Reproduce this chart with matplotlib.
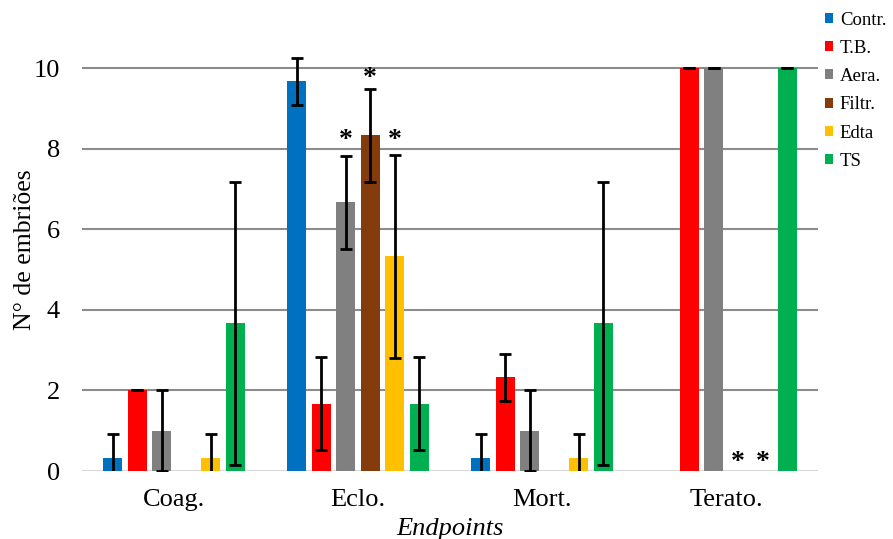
import numpy as np
import matplotlib.pyplot as plt
from matplotlib.patches import Patch

plt.rcParams['font.family'] = ['Liberation Serif', 'DejaVu Serif']

# dados
categorias = ['Coag.', 'Eclo.', 'Mort.', 'Terato.']
series = ['Contr.', 'T.B.', 'Aera.', 'Filtr.', 'Edta', 'TS']
cores = ['#0070C0', '#FF0000', '#808080', '#843C0C', '#FFC000', '#00B050']

contr = [0.33, 9.67, 0.33, 0.0]
tb = [2.0, 1.67, 2.33, 10.0]
aera = [1.0, 6.67, 1.0, 10.0]
filtr = [0.0, 8.33, 0.0, 0.0]
edta = [0.33, 5.33, 0.33, 0.0]
ts = [3.67, 1.67, 3.67, 10.0]

contr_err = [0.58, 0.58, 0.58, 0.0]
tb_err = [0.0, 1.15, 0.58, 0.0]
aera_err = [1.0, 1.15, 1.0, 0.0]
filtr_err = [0.0, 1.15, 0.0, 0.0]
edta_err = [0.58, 2.52, 0.58, 0.0]
ts_err = [3.51, 1.15, 3.51, 0.0]

# asteriscos: (categoria, serie, y)
estrelas = [(1, 2, 8.19), (1, 3, 9.75), (1, 4, 8.19), (3, 3, 0.22), (3, 4, 0.22)]

valores = [contr, tb, aera, filtr, edta, ts]
erros = [contr_err, tb_err, aera_err, filtr_err, edta_err, ts_err]

fig = plt.figure(figsize=(8.93, 5.39), dpi=100)
ax = fig.add_axes([0.0918, 0.126, 0.8242, 0.8226])

x = np.arange(len(categorias))
passo = 0.133
larg = 0.103

for i, (v, e) in enumerate(zip(valores, erros)):
    pos = x + (i - 2.5) * passo
    ax.bar(pos, v, width=larg, color=cores[i], zorder=3)
    tem_erro = [k for k in range(len(v)) if v[k] > 0]
    ax.errorbar(pos[tem_erro], np.array(v)[tem_erro], yerr=np.array(e)[tem_erro],
                fmt='none', ecolor='black', elinewidth=2, capsize=4.5,
                capthick=2, zorder=4)

for c, s, y in estrelas:
    ax.text(x[c] + (s - 2.5) * passo, y, '*', ha='center', va='center',
            fontsize=20, fontweight='bold', zorder=5)

ax.set_xlim(-0.5, 3.5)
ax.set_ylim(0, 11)
ax.set_yticks([0, 2, 4, 6, 8, 10])
ax.set_xticks(x)
ax.set_xticklabels(categorias)
ax.tick_params(axis='both', length=0, labelsize=19)
ax.tick_params(axis='y', pad=16)
ax.tick_params(axis='x', pad=13)
for sp in ax.spines.values():
    sp.set_visible(False)
for t in [2, 4, 6, 8, 10]:
    ax.axhline(t, color='#8c8c8c', lw=1.5, zorder=1)
ax.axhline(0, color='#d9d9d9', lw=1.5, zorder=2)

ax.set_ylabel('N° de embriões', fontsize=18.5, labelpad=-2)
ax.set_xlabel('Endpoints', fontsize=19, style='italic', labelpad=5)

handles = [Patch(facecolor=c, edgecolor='none') for c in cores]
fig.legend(handles, series, loc='upper left', bbox_to_anchor=(0.909, 1.003),
           frameon=False, fontsize=13.5, handlelength=0.45, handleheight=0.45,
           handletextpad=0.35, labelspacing=0.6, borderpad=0.2)

fig.savefig('out.png', dpi=100)
